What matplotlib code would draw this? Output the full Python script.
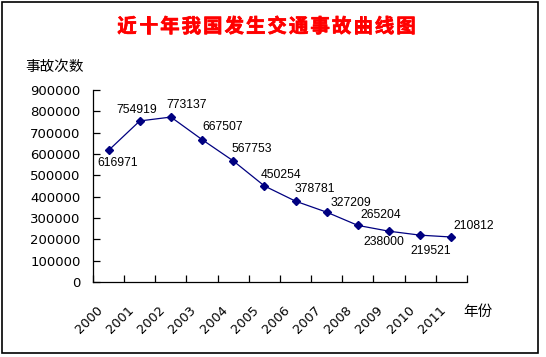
import numpy as np
import matplotlib
matplotlib.use("Agg")
import matplotlib.pyplot as plt
import matplotlib.patheffects as pe
from matplotlib.patches import Rectangle

plt.rcParams['font.family'] = ['DejaVu Sans', 'Noto Sans CJK SC']

title = "近十年我国发生交通事故曲线图"
y_label = "事故次数"
x_label = "年份"
years = ["2000", "2001", "2002", "2003", "2004", "2005",
         "2006", "2007", "2008", "2009", "2010", "2011"]
accidents = [616971, 754919, 773137, 667507, 567753, 450254,
             378781, 327209, 265204, 238000, 219521, 210812]

# where each value label sits relative to its point (pixels)
label_offsets = [(9, -13), (-3, 11), (16, 12), (21, 13), (19, 12), (17, 11),
                 (19, 12), (24, 9), (23, 10), (-5, -11), (11, -16), (22, 11)]

navy = "#000080"
cjk = ['Noto Sans CJK SC', 'DejaVu Sans']
W, H = 546, 357

fig = plt.figure(figsize=(5.46, 3.57), dpi=100)
fig.patch.set_facecolor("white")
fig.patches.append(Rectangle((0.0037, 0.0112), 0.9816, 0.9832, transform=fig.transFigure,
                             fill=False, edgecolor="black", linewidth=1.2))

ax = fig.add_axes([0.1703, 0.2101, 0.6850, 0.5378])
x = np.arange(len(years))
ax.plot(x, accidents, color=navy, linewidth=0.9, marker="D", markersize=4,
        markerfacecolor=navy, markeredgecolor=navy)

for xi, val, (dx, dy) in zip(x, accidents, label_offsets):
    ax.annotate(str(val), (xi, val), xytext=(dx, dy), textcoords="offset pixels",
                ha="center", va="center", fontsize=8.7, family="Liberation Sans")

ax.set_xlim(-0.5, len(years) - 0.5)
ax.set_ylim(0, 900000)
ax.set_yticks(np.arange(0, 900001, 100000))
ax.set_yticklabels([str(v) for v in range(0, 900001, 100000)], fontsize=9.5)
ax.set_xticks(np.arange(len(years) + 1) - 0.5)
ax.set_xticklabels([])
ax.tick_params(axis="both", direction="in", length=5, width=0.9, color="black")
ax.tick_params(axis="y", pad=9)

for side in ["top", "right"]:
    ax.spines[side].set_visible(False)
for side in ["left", "bottom"]:
    ax.spines[side].set_linewidth(0.9)

# rotated year labels
for i, yr in enumerate(years):
    ax.annotate(yr, (i - 0.4, 0), xycoords=("data", "axes fraction"),
                xytext=(0, -22), textcoords="offset pixels", rotation=45,
                rotation_mode="anchor", ha="right", va="top", fontsize=9.3)

# title drawn char by char to get the wide letter spacing
step = (406 - 127) / (len(title) - 1)
for k, ch in enumerate(title):
    fig.text((127 + k * step) / W, 1 - 27 / H, ch, color="red", fontsize=14,
             fontweight="bold", family=cjk, ha="center", va="center",
             path_effects=[pe.withStroke(linewidth=0.5, foreground="red")])
fig.text(25 / W, 1 - 67 / H, y_label, fontsize=10.5, family=cjk,
         ha="left", va="center")
fig.text(463 / W, 1 - 312 / H, x_label, fontsize=10.5, family=cjk,
         ha="left", va="center")

fig.savefig("out.png", dpi=100)
